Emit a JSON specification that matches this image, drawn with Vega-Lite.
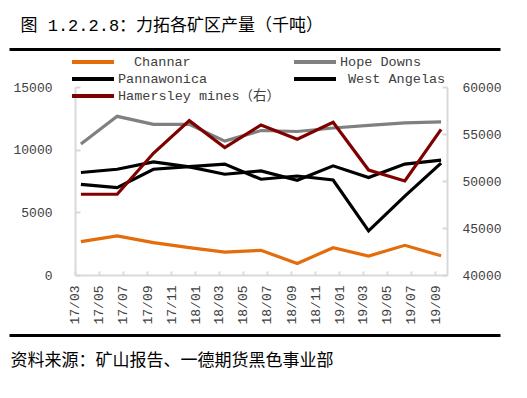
{
  "$schema": "https://vega.github.io/schema/vega-lite/v6.json",
  "background": "white",
  "width": 491,
  "height": 188,
  "autosize": {"type": "none"},
  "padding": {"left": 9, "top": 87, "right": 27, "bottom": 123},
  "config": {
    "view": {"stroke": null},
    "axis": {
      "grid": false,
      "domainColor": "#D9D9D9",
      "domainWidth": 2,
      "tickColor": "#D9D9D9",
      "tickWidth": 2,
      "labelFont": "Liberation Mono",
      "labelFontSize": 13,
      "labelColor": "#404040"
    }
  },
  "data": {
    "values": [
      {"date": "2017-03-01", "series": "Channar", "value": 2660},
      {"date": "2017-06-01", "series": "Channar", "value": 3120},
      {"date": "2017-09-01", "series": "Channar", "value": 2580},
      {"date": "2017-12-01", "series": "Channar", "value": 2180},
      {"date": "2018-03-01", "series": "Channar", "value": 1830},
      {"date": "2018-06-01", "series": "Channar", "value": 1970},
      {"date": "2018-09-01", "series": "Channar", "value": 920},
      {"date": "2018-12-01", "series": "Channar", "value": 2180},
      {"date": "2019-03-01", "series": "Channar", "value": 1510},
      {"date": "2019-06-01", "series": "Channar", "value": 2370},
      {"date": "2019-09-01", "series": "Channar", "value": 1530},
      {"date": "2017-03-01", "series": "Hope Downs", "value": 10460},
      {"date": "2017-06-01", "series": "Hope Downs", "value": 12660},
      {"date": "2017-09-01", "series": "Hope Downs", "value": 12020},
      {"date": "2017-12-01", "series": "Hope Downs", "value": 12020},
      {"date": "2018-03-01", "series": "Hope Downs", "value": 10680},
      {"date": "2018-06-01", "series": "Hope Downs", "value": 11530},
      {"date": "2018-09-01", "series": "Hope Downs", "value": 11450},
      {"date": "2018-12-01", "series": "Hope Downs", "value": 11730},
      {"date": "2019-03-01", "series": "Hope Downs", "value": 11940},
      {"date": "2019-06-01", "series": "Hope Downs", "value": 12130},
      {"date": "2019-09-01", "series": "Hope Downs", "value": 12210},
      {"date": "2017-03-01", "series": "Pannawonica", "value": 7230},
      {"date": "2017-06-01", "series": "Pannawonica", "value": 6970},
      {"date": "2017-09-01", "series": "Pannawonica", "value": 8440},
      {"date": "2017-12-01", "series": "Pannawonica", "value": 8650},
      {"date": "2018-03-01", "series": "Pannawonica", "value": 8850},
      {"date": "2018-06-01", "series": "Pannawonica", "value": 7640},
      {"date": "2018-09-01", "series": "Pannawonica", "value": 7900},
      {"date": "2018-12-01", "series": "Pannawonica", "value": 7580},
      {"date": "2019-03-01", "series": "Pannawonica", "value": 3520},
      {"date": "2019-06-01", "series": "Pannawonica", "value": 6290},
      {"date": "2019-09-01", "series": "Pannawonica", "value": 8930},
      {"date": "2017-03-01", "series": "West Angelas", "value": 8180},
      {"date": "2017-06-01", "series": "West Angelas", "value": 8440},
      {"date": "2017-09-01", "series": "West Angelas", "value": 9030},
      {"date": "2017-12-01", "series": "West Angelas", "value": 8630},
      {"date": "2018-03-01", "series": "West Angelas", "value": 8040},
      {"date": "2018-06-01", "series": "West Angelas", "value": 8310},
      {"date": "2018-09-01", "series": "West Angelas", "value": 7560},
      {"date": "2018-12-01", "series": "West Angelas", "value": 8710},
      {"date": "2019-03-01", "series": "West Angelas", "value": 7780},
      {"date": "2019-06-01", "series": "West Angelas", "value": 8850},
      {"date": "2019-09-01", "series": "West Angelas", "value": 9170},
      {"date": "2017-03-01", "series": "Hamersley mines（右）", "value": 48590},
      {"date": "2017-06-01", "series": "Hamersley mines（右）", "value": 48590},
      {"date": "2017-09-01", "series": "Hamersley mines（右）", "value": 52950},
      {"date": "2017-12-01", "series": "Hamersley mines（右）", "value": 56420},
      {"date": "2018-03-01", "series": "Hamersley mines（右）", "value": 53550},
      {"date": "2018-06-01", "series": "Hamersley mines（右）", "value": 55960},
      {"date": "2018-09-01", "series": "Hamersley mines（右）", "value": 54440},
      {"date": "2018-12-01", "series": "Hamersley mines（右）", "value": 56250},
      {"date": "2019-03-01", "series": "Hamersley mines（右）", "value": 51170},
      {"date": "2019-06-01", "series": "Hamersley mines（右）", "value": 50000},
      {"date": "2019-09-01", "series": "Hamersley mines（右）", "value": 55500}
    ]
  },
  "encoding": {
    "color": {
      "field": "series",
      "type": "nominal",
      "scale": {
        "domain": ["Channar", "Hope Downs", "Pannawonica", "West Angelas", "Hamersley mines（右）"],
        "range": ["#E46C0A", "#808080", "#000000", "#000000", "#800000"]
      },
      "legend": {
        "title": null,
        "orient": "none",
        "legendX": 61,
        "legendY": -32,
        "direction": "horizontal",
        "padding": 0,
        "columns": 2,
        "columnPadding": 5,
        "rowPadding": 1,
        "symbolType": "M-4.2,0H4.2",
        "symbolSize": 100,
        "symbolStrokeWidth": 4,
        "symbolOffset": 16,
        "labelOffset": 18,
        "labelFont": "Liberation Mono, Noto Sans CJK SC",
        "labelFontSize": 13.5,
        "labelColor": "#404040",
        "labelLimit": 400,
        "encode": {
          "labels": {
            "update": {
              "dx": {"signal": "datum.value == 'Channar' ? 16 : (datum.value == 'West Angelas' ? 8 : 0)"}
            }
          }
        }
      }
    }
  },
  "layer": [
    {
      "transform": [{"filter": "datum.series == 'Channar' || datum.series == 'Hope Downs'"}],
      "mark": {"type": "line", "strokeWidth": 3.2},
      "encoding": {
        "x": {
          "field": "date",
          "type": "temporal",
          "scale": {
            "type": "utc",
            "range": [66, 438],
            "domain": [
              {"year": 2017, "month": 2, "date": 14, "utc": true},
              {"year": 2019, "month": 9, "date": 16, "utc": true}
            ]
          },
          "axis": {
            "title": null,
            "values": [
              {"year": 2017, "month": 3, "date": 1, "utc": true},
              {"year": 2017, "month": 5, "date": 1, "utc": true},
              {"year": 2017, "month": 7, "date": 1, "utc": true},
              {"year": 2017, "month": 9, "date": 1, "utc": true},
              {"year": 2017, "month": 11, "date": 1, "utc": true},
              {"year": 2018, "month": 1, "date": 1, "utc": true},
              {"year": 2018, "month": 3, "date": 1, "utc": true},
              {"year": 2018, "month": 5, "date": 1, "utc": true},
              {"year": 2018, "month": 7, "date": 1, "utc": true},
              {"year": 2018, "month": 9, "date": 1, "utc": true},
              {"year": 2018, "month": 11, "date": 1, "utc": true},
              {"year": 2019, "month": 1, "date": 1, "utc": true},
              {"year": 2019, "month": 3, "date": 1, "utc": true},
              {"year": 2019, "month": 5, "date": 1, "utc": true},
              {"year": 2019, "month": 7, "date": 1, "utc": true},
              {"year": 2019, "month": 9, "date": 1, "utc": true}
            ],
            "orient": "bottom",
            "format": "%y/%m",
            "labelAngle": -90,
            "labelPadding": 14,
            "tickSize": -4,
            "tickOffset": -6,
            "labelOverlap": false,
            "labelFlush": false,
            "labelBound": false
          }
        },
        "y": {
          "field": "value",
          "type": "quantitative",
          "scale": {"domain": [0, 15000]},
          "axis": {
            "orient": "left",
            "offset": -66,
            "title": null,
            "values": [0, 5000, 10000, 15000],
            "format": "d",
            "tickSize": -5,
            "labelPadding": 28
          }
        }
      }
    },
    {
      "transform": [{"filter": "datum.series == 'Pannawonica' || datum.series == 'West Angelas'"}],
      "mark": {"type": "line", "strokeWidth": 3.2},
      "encoding": {
        "x": {
          "field": "date",
          "type": "temporal",
          "scale": {
            "type": "utc",
            "domain": [
              {"year": 2016, "month": 8, "date": 30, "hours": 12, "utc": true},
              {"year": 2020, "month": 1, "date": 28, "hours": 12, "utc": true}
            ]
          },
          "axis": {
            "orient": "top",
            "offset": 38,
            "domain": true,
            "ticks": false,
            "labels": false,
            "domainColor": "#000000",
            "domainWidth": 3,
            "zindex": 1,
            "title": "图 1.2.2.8：力拓各矿区产量（千吨）",
            "titleFont": "Liberation Mono, Noto Sans CJK SC",
            "titleFontSize": 17,
            "titleFontWeight": "normal",
            "titleColor": "#000000",
            "titleAlign": "left",
            "titleBaseline": "middle",
            "titleX": 11,
            "titleY": -24
          }
        },
        "y": {
          "field": "value",
          "type": "quantitative",
          "scale": {"domain": [0, 15000]},
          "axis": null
        }
      }
    },
    {
      "transform": [{"filter": "datum.series == 'Hamersley mines（右）'"}],
      "mark": {"type": "line", "strokeWidth": 3.2},
      "encoding": {
        "x": {
          "field": "date",
          "type": "temporal",
          "scale": {
            "type": "utc",
            "domain": [
              {"year": 2016, "month": 8, "date": 30, "hours": 12, "utc": true},
              {"year": 2020, "month": 1, "date": 28, "hours": 12, "utc": true}
            ]
          },
          "axis": {
            "orient": "bottom",
            "offset": 60,
            "domain": true,
            "ticks": false,
            "labels": false,
            "domainColor": "#000000",
            "domainWidth": 3,
            "zindex": 1,
            "title": "资料来源：矿山报告、一德期货黑色事业部",
            "titleFont": "Noto Sans CJK SC",
            "titleFontSize": 17,
            "titleFontWeight": "normal",
            "titleColor": "#000000",
            "titleAlign": "left",
            "titleBaseline": "middle",
            "titleX": 1,
            "titleY": 25
          }
        },
        "y": {
          "field": "value",
          "type": "quantitative",
          "scale": {"domain": [40000, 60000]},
          "axis": {
            "orient": "right",
            "offset": -53,
            "title": null,
            "values": [40000, 45000, 50000, 55000, 60000],
            "format": "d",
            "tickSize": -5,
            "labelPadding": 20
          }
        }
      }
    }
  ],
  "resolve": {"scale": {"x": "independent", "y": "independent"}}
}
